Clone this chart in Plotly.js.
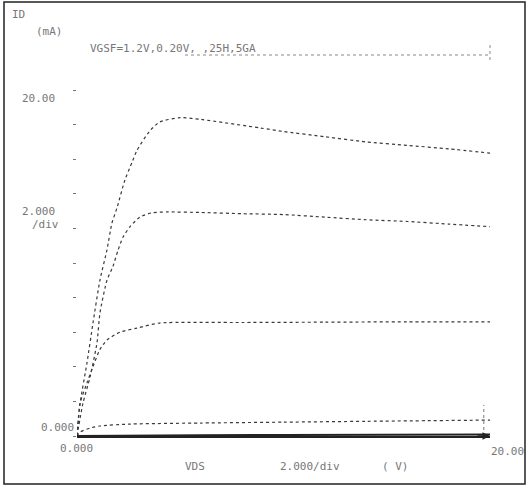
<!DOCTYPE html>
<html>
<head>
<meta charset="utf-8">
<script src="https://cdn.plot.ly/plotly-3.0.1.min.js"></script>
<style>html,body{margin:0;padding:0;background:#fff;}#chart{width:529px;height:489px;}</style>
</head>
<body>
<div id="chart"></div>
<script>
// Curve 1 (highest gate step)
var vds1 = [0, 0.15, 0.48, 0.77, 1.11, 1.45, 1.69, 1.94, 2.32, 2.66, 2.9, 3.5, 4.0, 5.0, 6.0, 8.9, 10, 12, 14, 16, 18, 20];
var id1  = [0, 1.9, 4.2, 6.5, 9.0, 10.75, 12.3, 13.2, 14.8, 15.8, 16.5, 17.6, 18.15, 18.4, 18.3, 17.8, 17.6, 17.3, 17.0, 16.8, 16.6, 16.35];
// Curve 2
var vds2 = [0, 0.29, 0.63, 0.97, 1.11, 1.45, 1.74, 1.99, 2.23, 2.57, 3.05, 3.63, 4.36, 6, 8, 10, 12, 14, 16, 18, 20];
var id2  = [0, 1.9, 3.4, 5.4, 7.1, 9.0, 9.8, 10.75, 11.5, 12.1, 12.66, 12.9, 12.95, 12.92, 12.85, 12.8, 12.65, 12.5, 12.4, 12.25, 12.1];
// Curve 3
var vds3 = [0, 0.15, 0.48, 0.77, 1.11, 1.45, 2.08, 2.9, 4.0, 8, 12, 16, 20];
var id3  = [0, 1.9, 3.06, 4.0, 5.0, 5.55, 6.0, 6.24, 6.53, 6.56, 6.58, 6.6, 6.6];
// Curve 4
var vds4 = [0, 0.15, 0.63, 1.11, 2.57, 6, 10, 14, 20];
var id4  = [0, 0.23, 0.46, 0.58, 0.69, 0.75, 0.8, 0.85, 0.92];
// Curve 5 (near zero)
var vds5 = [0, 2, 6, 10, 14, 20];
var id5  = [0, 0.03, 0.05, 0.06, 0.07, 0.08];

// Axis labels
var yTopLabel = "20.00";
var yZeroLabel = "0.000";
var xZeroLabel = "0.000";
var xEndLabel = "20.00";
var yDivLabel = "2.000";
var yDivUnit = "/div";
var xTitle = "VDS";
var xDiv = "2.000/div";
var xUnit = "( V)";
var yName = "ID";
var yUnit = "(mA)";
var header = "VGSF=1.2V,0.20V, ,25H,5GA";

var lineStyle = {color: '#3a3a3a', width: 1.2, dash: 'dot', shape: 'spline', smoothing: 0.6};
function tr(x, y) { return {x: x, y: y, type: 'scatter', mode: 'lines', line: lineStyle, hoverinfo: 'skip', showlegend: false}; }
var data = [tr(vds1, id1), tr(vds2, id2), tr(vds3, id3), tr(vds4, id4),
  {x: vds5, y: id5, type: 'scatter', mode: 'lines', line: {color: '#222', width: 2}, showlegend: false}];

var txt = {family: 'DejaVu Sans Mono, monospace', size: 11, color: '#777'};
function ann(text, x, y, xanchor, yanchor, xref, yref, extra) {
  var a = {text: text, x: x, y: y, xref: xref || 'paper', yref: yref || 'paper', xanchor: xanchor, yanchor: yanchor, showarrow: false, font: txt};
  if (extra) for (var k in extra) a[k] = extra[k];
  return a;
}
function px(p) { return (p - 77) / 413; }
function py(p) { return (436 - p) / 346; }

var layout = {
  width: 529, height: 489,
  margin: {l: 77, r: 39, t: 90, b: 53},
  paper_bgcolor: '#fff', plot_bgcolor: '#fff',
  xaxis: {range: [0, 20], showgrid: false, zeroline: false, showticklabels: false, ticks: '', showline: true, linecolor: '#222', linewidth: 2, fixedrange: true},
  yaxis: {range: [0, 20], showgrid: false, zeroline: false, showticklabels: false, ticks: 'outside', ticklen: 3, tickcolor: '#777', dtick: 2, showline: false, fixedrange: true},
  shapes: [
    {type: 'rect', xref: 'paper', yref: 'paper', x0: px(4), x1: px(525), y0: py(484), y1: py(2), line: {color: '#222', width: 1.5}},
    {type: 'line', xref: 'x', yref: 'y', x0: 19.7, x1: 19.7, y0: 0, y1: 1.8, line: {color: '#777', width: 1, dash: 'dot'}},
    {type: 'line', xref: 'paper', yref: 'paper', x0: px(185), x1: px(490), y0: py(55), y1: py(55), line: {color: '#888', width: 1, dash: 'dot'}},
    {type: 'line', xref: 'paper', yref: 'paper', x0: px(490), x1: px(490), y0: py(60), y1: py(44), line: {color: '#888', width: 1, dash: 'dot'}}
  ],
  annotations: [
    ann(yName, px(10), py(6), 'left', 'top'),
    ann(yUnit, px(34), py(23), 'left', 'top'),
    ann(header, px(88), py(40), 'left', 'top'),
    ann(yTopLabel, px(20), py(90), 'left', 'top'),
    ann(yDivLabel, px(20), py(203), 'left', 'top'),
    ann(yDivUnit, px(30), py(216), 'left', 'top'),
    ann(yZeroLabel, px(76), py(436), 'right', 'bottom'),
    ann(xZeroLabel, px(58), py(440), 'left', 'top'),
    ann(xEndLabel, px(526), py(443), 'right', 'top'),
    ann(xTitle, px(183), py(458), 'left', 'top'),
    ann(xDiv, px(278), py(458), 'left', 'top'),
    ann(xUnit, px(380), py(458), 'left', 'top'),
    {x: 20, y: 0, ax: -14, ay: 0, xref: 'x', yref: 'y', text: '', showarrow: true, arrowhead: 2, arrowsize: 1, arrowwidth: 1.5, arrowcolor: '#222'}
  ]
};
Plotly.newPlot('chart', data, layout, {displayModeBar: false, staticPlot: true});
</script>
</body>
</html>
